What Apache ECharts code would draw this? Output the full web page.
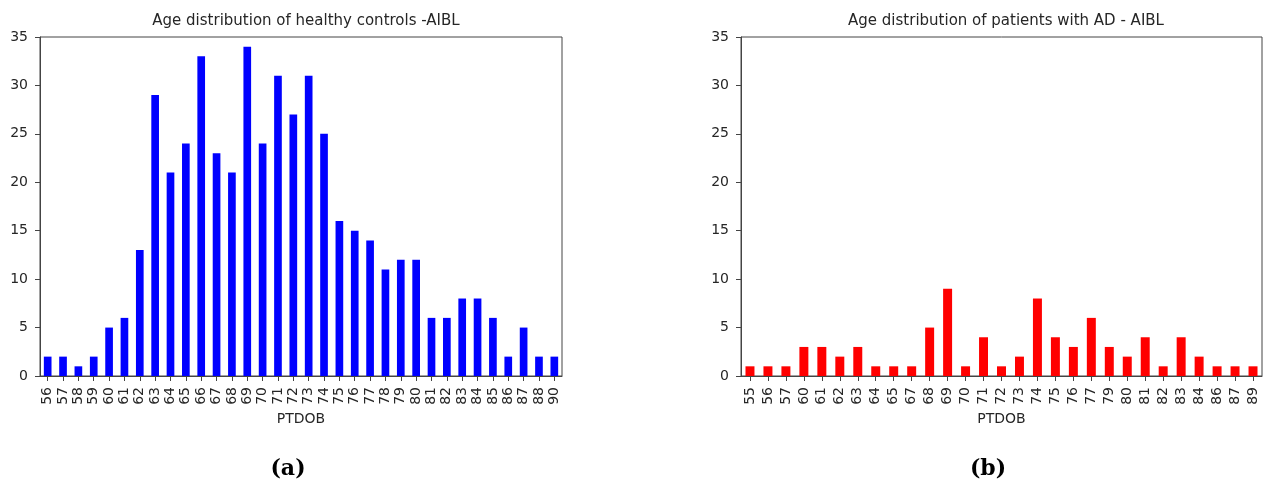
<!DOCTYPE html>
<html>
<head>
<meta charset="utf-8">
<script src="https://cdn.jsdelivr.net/npm/echarts@6/dist/echarts.min.js"></script>
<style>
  html, body { margin: 0; padding: 0; background: #ffffff; }
  #chart { width: 1264px; height: 485px; }
</style>
</head>
<body>
<div id="chart"></div>
<script>
// Age (PTDOB) categories and counts for each group
const controlAges = ['56','57','58','59','60','61','62','63','64','65','66','67','68','69','70','71','72','73','74','75','76','77','78','79','80','81','82','83','84','85','86','87','88','90'];
const controlCounts = [2,2,1,2,5,6,13,29,21,24,33,23,21,34,24,31,27,31,25,16,15,14,11,12,12,6,6,8,8,6,2,5,2,2];

const adAges = ['55','56','57','60','61','62','63','64','65','67','68','69','70','71','72','73','74','75','76','77','79','80','81','82','83','84','86','87','89'];
const adCounts = [1,1,1,3,3,2,3,1,1,1,5,9,1,4,1,2,8,4,3,6,3,2,4,1,4,2,1,1,1];

const yTicks = { min: 0, max: 35, interval: 5 };

const FONT = 'DejaVu Sans';
const INK = '#262626';

function xAxisFor(idx, cats) {
  return {
    type: 'category', gridIndex: idx, data: cats,
    name: 'PTDOB', nameLocation: 'middle', nameGap: 35,
    nameTextStyle: { fontFamily: FONT, fontSize: 14, color: INK },
    axisLine: { show: true, lineStyle: { color: '#444', width: 1 } },
    axisTick: { show: true, alignWithLabel: true, length: 5, lineStyle: { color: '#444' } },
    axisLabel: { rotate: 90, interval: 0, fontFamily: FONT, fontSize: 14, color: INK, margin: 11 },
    splitLine: { show: false }
  };
}

function yAxisFor(idx) {
  return {
    type: 'value', gridIndex: idx, min: yTicks.min, max: yTicks.max, interval: yTicks.interval,
    axisLine: { show: true, lineStyle: { color: '#444', width: 1 } },
    axisTick: { show: true, length: 5, lineStyle: { color: '#444' } },
    axisLabel: { fontFamily: FONT, fontSize: 14, color: INK, margin: 12 },
    splitLine: { show: false }
  };
}

const chart = echarts.init(document.getElementById('chart'), null, { renderer: 'canvas' });
chart.setOption({
  backgroundColor: '#ffffff',
  animation: false,
  title: [
    { text: 'Age distribution of healthy controls -AIBL', left: 301, top: 9, textAlign: 'center',
      textStyle: { fontFamily: FONT, fontSize: 15, fontWeight: 'normal', color: INK } },
    { text: 'Age distribution of patients with AD - AIBL', left: 1001, top: 9, textAlign: 'center',
      textStyle: { fontFamily: FONT, fontSize: 15, fontWeight: 'normal', color: INK } },
    { text: '(a)', left: 283, top: 453, textAlign: 'center',
      textStyle: { fontFamily: 'DejaVu Serif', fontSize: 22, fontWeight: 'bold', color: '#000' } },
    { text: '(b)', left: 983, top: 453, textAlign: 'center',
      textStyle: { fontFamily: 'DejaVu Serif', fontSize: 22, fontWeight: 'bold', color: '#000' } }
  ],
  grid: [
    { left: 40, top: 37, width: 522, height: 339, show: true, borderColor: '#444', borderWidth: 1, backgroundColor: 'transparent' },
    { left: 741, top: 37, width: 521, height: 339, show: true, borderColor: '#444', borderWidth: 1, backgroundColor: 'transparent' }
  ],
  xAxis: [xAxisFor(0, controlAges), xAxisFor(1, adAges)],
  yAxis: [yAxisFor(0), yAxisFor(1)],
  series: [
    { type: 'bar', xAxisIndex: 0, yAxisIndex: 0, data: controlCounts, barWidth: '50%',
      itemStyle: { color: '#0000ff' } },
    { type: 'bar', xAxisIndex: 1, yAxisIndex: 1, data: adCounts, barWidth: '50%',
      itemStyle: { color: '#ff0000' } }
  ]
});
</script>
</body>
</html>
